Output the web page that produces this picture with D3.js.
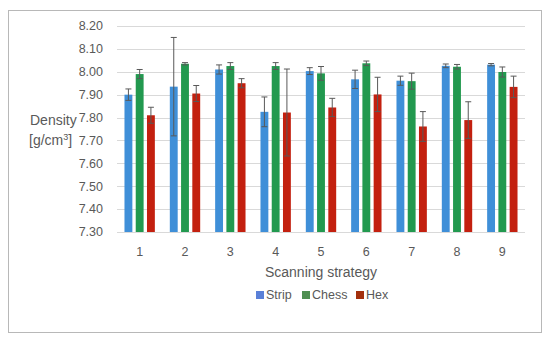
<!DOCTYPE html>
<html>
<head>
<meta charset="utf-8">
<script src="https://cdn.jsdelivr.net/npm/d3@7"></script>
<style>
  body { margin: 0; background: #fff; }
  text { font-family: "Liberation Sans", Arial, sans-serif; fill: #595959; }
</style>
</head>
<body>
<script>
// chart data
var strategies = ["1", "2", "3", "4", "5", "6", "7", "8", "9"];
var seriesNames = ["Strip", "Chess", "Hex"];
var stripVals = [7.90, 7.935, 8.01, 7.825, 8.003, 7.967, 7.961, 8.026, 8.031];
var stripErr  = [0.025, 0.215, 0.02, 0.065, 0.015, 0.04, 0.02, 0.008, 0.005];
var chessVals = [7.99, 8.035, 8.025, 8.025, 7.993, 8.037, 7.959, 8.022, 7.999];
var chessErr  = [0.02, 0.005, 0.015, 0.015, 0.03, 0.01, 0.035, 0.01, 0.022];
var hexVals   = [7.81, 7.905, 7.95, 7.822, 7.844, 7.901, 7.761, 7.789, 7.934];
var hexErr    = [0.035, 0.035, 0.02, 0.19, 0.04, 0.075, 0.065, 0.08, 0.047];
var yTicks = [7.30, 7.40, 7.50, 7.60, 7.70, 7.80, 7.90, 8.00, 8.10, 8.20];

var colors = ["#3f8fd8", "#22994f", "#c3200f"];
var legendColors = ["#5a80d8", "#4f8f52", "#a3300c"];

var W = 550, H = 340;
var margin = { top: 26, right: 25, bottom: 108, left: 117 },
  width = W - margin.left - margin.right,
  height = H - margin.top - margin.bottom;

var svg = d3.select("body").append("svg")
  .attr("width", W)
  .attr("height", H);

// outer chart border
svg.append("rect")
  .attr("x", 8.5).attr("y", 10.5)
  .attr("width", 533).attr("height", 322)
  .attr("fill", "none")
  .attr("stroke", "#b8b8b8");

var g = svg.append("g")
  .attr("transform", "translate(" + margin.left + "," + margin.top + ")");

var x = d3.scaleBand().domain(strategies).range([0, width]).paddingInner(0.33).paddingOuter(0.165);
var xs = d3.scaleBand().domain(seriesNames).range([0, x.bandwidth()]).paddingInner(0.3);
var y = d3.scaleLinear().domain([7.30, 8.20]).range([height, 0]);

// gridlines
g.selectAll(".grid").data(yTicks).enter().append("line")
  .attr("x1", 0).attr("x2", width)
  .attr("y1", function (d) { return Math.round(y(d)) + 0.5; })
  .attr("y2", function (d) { return Math.round(y(d)) + 0.5; })
  .attr("stroke", "#d9d9d9");

// y tick labels
g.selectAll(".ylab").data(yTicks).enter().append("text")
  .attr("x", -14)
  .attr("y", function (d) { return y(d); })
  .attr("dy", "0.35em")
  .attr("text-anchor", "end")
  .style("font-size", "12.5px")
  .text(function (d) { return d.toFixed(2); });

var series = [
  { name: "Strip", vals: stripVals, err: stripErr },
  { name: "Chess", vals: chessVals, err: chessErr },
  { name: "Hex", vals: hexVals, err: hexErr }
];

series.forEach(function (s, si) {
  var rows = strategies.map(function (c, i) { return { c: c, v: s.vals[i], e: s.err[i] }; });
  var sg = g.append("g");
  sg.selectAll("rect").data(rows).enter().append("rect")
    .attr("x", function (d) { return x(d.c) + xs(s.name); })
    .attr("width", xs.bandwidth())
    .attr("y", function (d) { return y(d.v); })
    .attr("height", function (d) { return y(7.30) - y(d.v); })
    .attr("fill", colors[si]);

  // error bars
  var eg = sg.selectAll(".err").data(rows).enter().append("g")
    .attr("stroke", "#595959").attr("stroke-width", 1);
  eg.append("line")
    .attr("x1", function (d) { return x(d.c) + xs(s.name) + xs.bandwidth() / 2; })
    .attr("x2", function (d) { return x(d.c) + xs(s.name) + xs.bandwidth() / 2; })
    .attr("y1", function (d) { return y(d.v + d.e); })
    .attr("y2", function (d) { return y(d.v - d.e); });
  [1, -1].forEach(function (sign) {
    eg.append("line")
      .attr("x1", function (d) { return x(d.c) + xs(s.name) + xs.bandwidth() / 2 - 3; })
      .attr("x2", function (d) { return x(d.c) + xs(s.name) + xs.bandwidth() / 2 + 3; })
      .attr("y1", function (d) { return y(d.v + sign * d.e); })
      .attr("y2", function (d) { return y(d.v + sign * d.e); });
  });
});

// x labels
g.selectAll(".xlab").data(strategies).enter().append("text")
  .attr("x", function (d) { return x(d) + x.bandwidth() / 2; })
  .attr("y", height + 24)
  .attr("text-anchor", "middle")
  .style("font-size", "12.5px")
  .text(function (d) { return d; });

// axis titles
g.append("text")
  .attr("x", width / 2)
  .attr("y", height + 45)
  .attr("text-anchor", "middle")
  .style("font-size", "14px")
  .text("Scanning strategy");

var yt = svg.append("text").attr("x", 30).attr("y", 125).style("font-size", "14px");
yt.append("tspan").attr("x", 30).text("Density");
var t2 = svg.append("text").attr("x", 29).attr("y", 145).style("font-size", "14px");
t2.append("tspan").text("[g/cm");
t2.append("tspan").attr("dy", -5).style("font-size", "9px").text("3");
t2.append("tspan").attr("dy", 5).text("]");

// legend
var legendX = [256, 302, 356];
var lg = svg.selectAll(".leg").data(seriesNames).enter().append("g")
  .attr("transform", function (d, i) { return "translate(" + legendX[i] + ",295)"; });
lg.append("rect")
  .attr("x", 0).attr("y", -4).attr("width", 8).attr("height", 8)
  .attr("fill", function (d, i) { return legendColors[i]; });
lg.append("text")
  .attr("x", 10).attr("y", 0).attr("dy", "0.35em")
  .style("font-size", "12.5px")
  .text(function (d) { return d; });
</script>
</body>
</html>
